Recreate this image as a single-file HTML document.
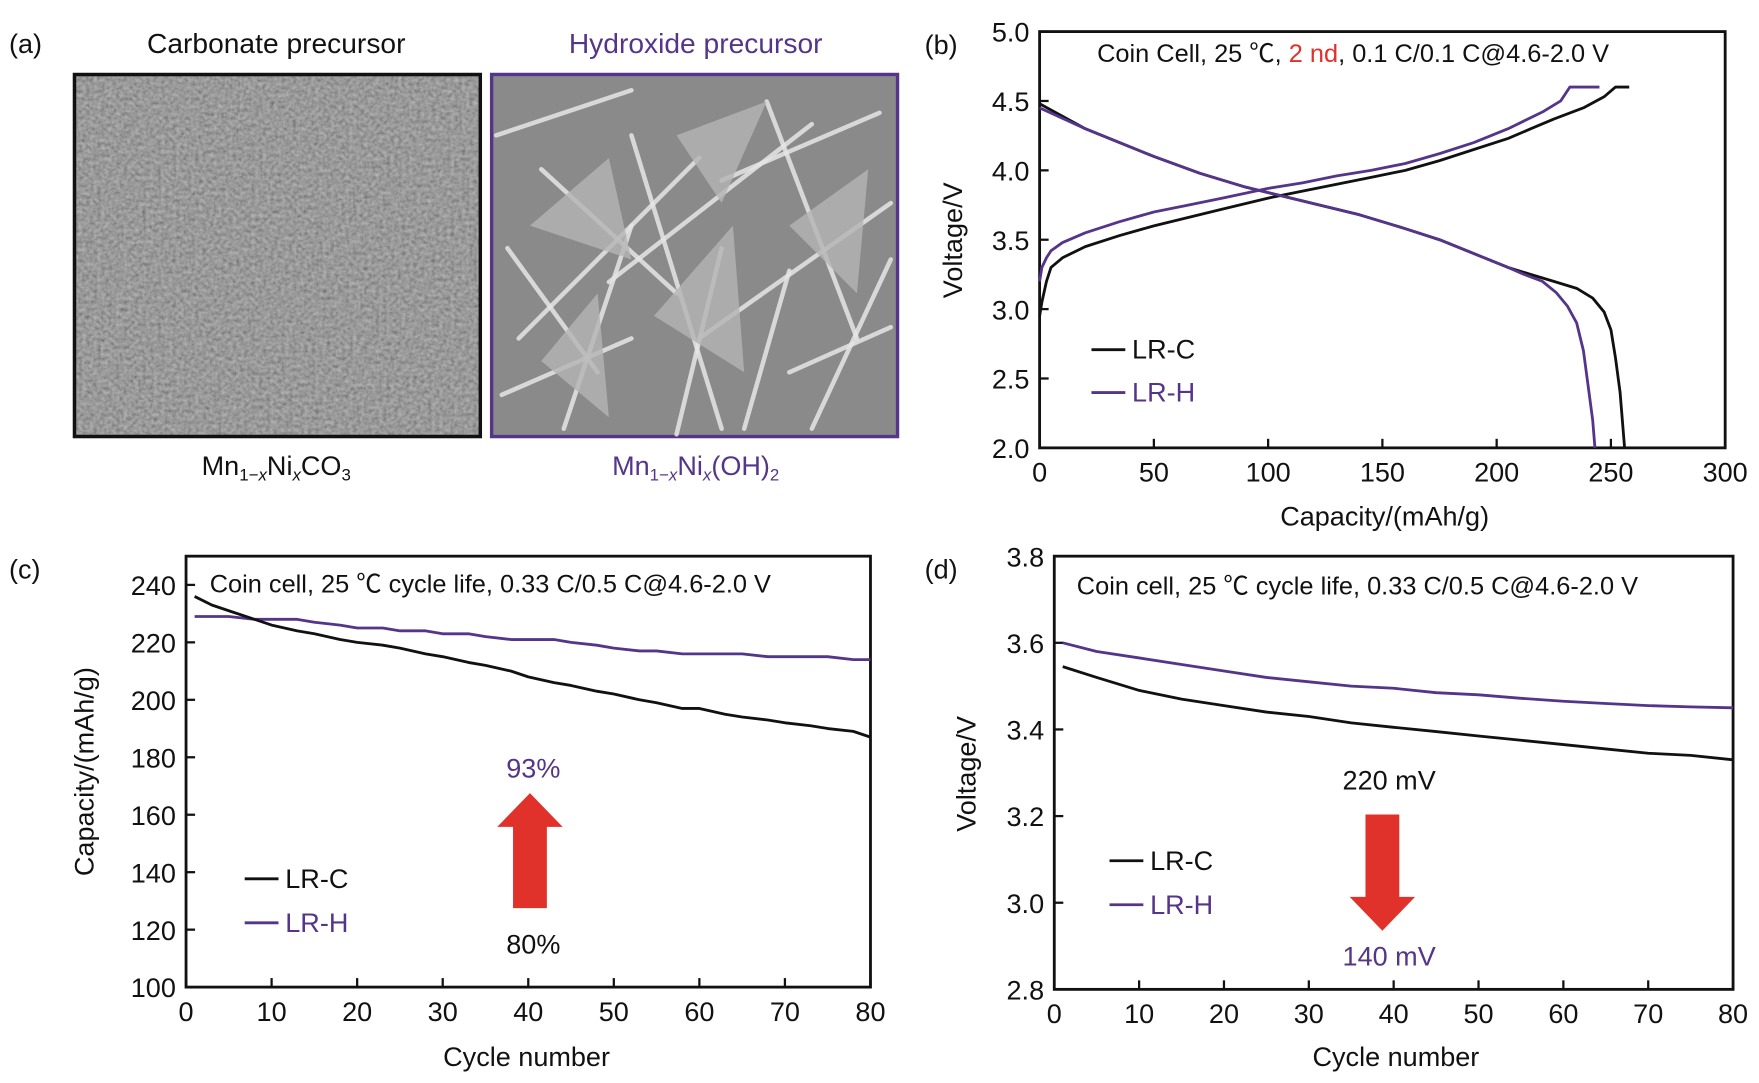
<!DOCTYPE html>
<html><head><meta charset="utf-8"><style>
html,body{margin:0;padding:0;background:#fff}
svg{display:block}
text{font-family:"Liberation Sans","Noto Sans CJK SC",sans-serif;fill:#111}
</style></head><body>
<svg id="fig" width="1759" height="1083" viewBox="0 0 1560 960" preserveAspectRatio="none">
<defs>
<filter id="noise" x="0" y="0" width="100%" height="100%"><feTurbulence type="fractalNoise" baseFrequency="0.3" numOctaves="3" seed="3"/><feColorMatrix type="saturate" values="0"/><feComponentTransfer><feFuncA type="table" tableValues="0.6 0.6"/></feComponentTransfer></filter>
</defs>
<g>
<text x="8" y="47" font-size="24">(a)</text>
<text x="245" y="47" font-size="25" text-anchor="middle">Carbonate precursor</text>
<text x="617" y="47" font-size="25" text-anchor="middle" style="fill:#55358a">Hydroxide precursor</text>
<rect x="66" y="66" width="360" height="321" fill="#666" stroke="#111" stroke-width="3"/>
<rect x="68" y="68" width="356" height="317" filter="url(#noise)"/>
<rect x="436" y="66" width="360" height="321" fill="#8a8a8a" stroke="#55358a" stroke-width="3"/>
<g id="flakes"></g>
<text x="245" y="421" font-size="24" text-anchor="middle">Mn<tspan font-size="15" dy="5">1−<tspan font-style="italic">x</tspan></tspan><tspan dy="-5">Ni</tspan><tspan font-size="15" dy="5" font-style="italic">x</tspan><tspan dy="-5">CO</tspan><tspan font-size="15" dy="5">3</tspan></text>
<text x="617" y="421" font-size="24" text-anchor="middle" style="fill:#55358a">Mn<tspan font-size="15" dy="5">1−<tspan font-style="italic">x</tspan></tspan><tspan dy="-5">Ni</tspan><tspan font-size="15" dy="5" font-style="italic">x</tspan><tspan dy="-5">(OH)</tspan><tspan font-size="15" dy="5">2</tspan></text>
</g>
<g id="pb"></g>
<g id="pc"></g>
<g id="pd"></g>
</svg>
<script>
const bChargeC_cap=[0,1,3,5,10,20,35,50,65,80,100,115,130,145,160,175,190,205,215,225,238,247,252,258];
const bChargeC_v=[2.95,3.05,3.2,3.3,3.37,3.45,3.53,3.6,3.66,3.72,3.8,3.85,3.9,3.95,4.0,4.07,4.15,4.23,4.3,4.37,4.45,4.53,4.6,4.6];
const bChargeH_cap=[0,1,3,5,10,20,35,50,65,80,100,115,130,145,160,175,190,205,220,228,232,245];
const bChargeH_v=[3.2,3.3,3.37,3.42,3.48,3.55,3.63,3.7,3.75,3.8,3.87,3.91,3.96,4.0,4.05,4.12,4.2,4.3,4.42,4.5,4.6,4.6];
const bDisC_cap=[0,20,50,70,90,110,140,160,175,190,205,215,225,235,242,247,250,252,254,255,256];
const bDisC_v=[4.48,4.3,4.1,3.98,3.88,3.8,3.68,3.58,3.5,3.4,3.3,3.25,3.2,3.15,3.08,2.98,2.85,2.65,2.4,2.2,2.0];
const bDisH_cap=[0,20,50,70,90,110,140,160,175,190,205,212,220,226,231,235,238,240,242,243];
const bDisH_v=[4.45,4.3,4.1,3.98,3.88,3.8,3.68,3.58,3.5,3.4,3.3,3.25,3.2,3.12,3.02,2.9,2.7,2.45,2.2,2.0];
const bXTicks=[0,50,100,150,200,250,300];
const bYTicks=[2.0,2.5,3.0,3.5,4.0,4.5,5.0];
const cCycles=[1,3,5,8,10,13,15,18,20,23,25,28,30,33,35,38,40,43,45,48,50,53,55,58,60,63,65,68,70,73,75,78,80];
const cCapC=[236,233,231,228,226,224,223,221,220,219,218,216,215,213,212,210,208,206,205,203,202,200,199,197,197,195,194,193,192,191,190,189,187];
const cCapH=[229,229,229,228,228,228,227,226,225,225,224,224,223,223,222,221,221,221,220,219,218,217,217,216,216,216,216,215,215,215,215,214,214];
const cXTicks=[0,10,20,30,40,50,60,70,80];
const cYTicks=[100,120,140,160,180,200,220,240];
const dCycles=[1,5,10,15,20,25,30,35,40,45,50,55,60,65,70,75,80];
const dVoltC=[3.545,3.52,3.49,3.47,3.455,3.44,3.43,3.415,3.405,3.395,3.385,3.375,3.365,3.355,3.345,3.34,3.33];
const dVoltH=[3.60,3.58,3.565,3.55,3.535,3.52,3.51,3.5,3.495,3.485,3.48,3.472,3.465,3.46,3.455,3.452,3.45];
const dXTicks=[0,10,20,30,40,50,60,70,80];
const dYTicks=[2.8,3.0,3.2,3.4,3.6,3.8];

const NS="http://www.w3.org/2000/svg";
const PURPLE="#55358a";
const FS=24;
function mk(parent,tag,attrs,txt){const e=document.createElementNS(NS,tag);for(const k in attrs)e.setAttribute(k,attrs[k]);if(txt!==undefined)e.textContent=txt;parent.appendChild(e);return e;}
function axis(g,box,xd,yd,xt,yt,yfmt,prefix){
  const sx=v=>box.x0+(v-xd[0])/(xd[1]-xd[0])*(box.x1-box.x0);
  const sy=v=>box.y1-(v-yd[0])/(yd[1]-yd[0])*(box.y1-box.y0);
  const fr=mk(g,'rect',{x:box.x0,y:box.y0,width:box.x1-box.x0,height:box.y1-box.y0,fill:'none',stroke:'#111','stroke-width':2.5});
  
  
  xt.forEach(v=>{
    const t=mk(g,'line',{x1:sx(v),x2:sx(v),y1:box.y1,y2:box.y1-8,stroke:'#111','stroke-width':2});
    
    
    const l=mk(g,'text',{x:sx(v),y:box.y1+30,'font-size':FS,'text-anchor':'middle'},String(v));
    
    
  });
  yt.forEach(v=>{
    const t=mk(g,'line',{x1:box.x0,x2:box.x0+8,y1:sy(v),y2:sy(v),stroke:'#111','stroke-width':2});
    
    
    const l=mk(g,'text',{x:box.x0-9,y:sy(v)+9,'font-size':FS,'text-anchor':'end'},yfmt(v));
    
    
  });
  return {sx,sy};
}
function line(g,xs,ys,s,color,name){
  const d=xs.map((x,i)=>(i?'L':'M')+s.sx(x).toFixed(1)+','+s.sy(ys[i]).toFixed(1)).join('');
  const p=mk(g,'path',{d:d,fill:'none',stroke:color,'stroke-width':2.5,'stroke-linejoin':'round'});
  
  
}
function txt(g,x,y,s,size,name,opts){const t=mk(g,'text',Object.assign({x:x,y:y,'font-size':size},opts||{}),s);return t;}
function legend(g,x,y,color,label,name){
  const l=mk(g,'line',{x1:x,x2:x+30,y1:y,y2:y,stroke:color,'stroke-width':2.5});
  
  
  const t=txt(g,x+36,y+8,label,FS,name+'-label');
  if(color!=='#111')t.setAttribute('style','fill:'+color);
}

(function(){
  const f=document.getElementById('flakes');
  const segs=[[440,120,560,80],[460,300,620,140],[500,380,560,200],[540,250,720,110],[600,385,640,220],[620,300,790,180],[660,380,700,240],[700,330,790,290],[450,220,530,330],[560,120,640,380],[680,90,760,300],[720,380,790,230],[480,150,600,260],[640,160,780,100],[445,350,560,300]];
  segs.forEach(s=>{const l=mk(f,'line',{x1:s[0],y1:s[1],x2:s[2],y2:s[3],stroke:'#e6e6e6','stroke-width':4,'stroke-linecap':'round',opacity:0.85});
    
    });
  const polys=[[470,200,540,140,560,230],[580,280,650,200,660,330],[700,200,770,150,760,260],[600,120,680,90,640,180],[480,320,530,260,540,370]];
  polys.forEach(p=>{const e=mk(f,'polygon',{points:p.join(','),fill:'#b4b4b4',opacity:0.8});
    
    });
})();

(function(){
  const g=document.getElementById('pb');
  const s=axis(g,{x0:922,x1:1530,y0:28,y1:397},[0,300],[2,5],bXTicks,bYTicks,v=>v.toFixed(1),'b');
  txt(g,820,48,'(b)',24,'panel-b-label');
  const t=txt(g,973,55,'Coin Cell, 25 ℃, ',22.5,'b-condition-text');
  mk(t,'tspan',{style:'fill:#e0312a'},'2 nd');
  mk(t,'tspan',{},', 0.1 C/0.1 C@4.6-2.0 V');
  txt(g,1228,466,'Capacity/(mAh/g)',FS,'b-x-axis-title',{'text-anchor':'middle'});
  txt(g,0,0,'Voltage/V',FS,'b-y-axis-title',{'text-anchor':'middle',transform:'translate(853,213) rotate(-90)'});
  line(g,bChargeC_cap,bChargeC_v,s,'#111','b-lrc-charge');
  line(g,bDisC_cap,bDisC_v,s,'#111','b-lrc-discharge');
  line(g,bChargeH_cap,bChargeH_v,s,PURPLE,'b-lrh-charge');
  line(g,bDisH_cap,bDisH_v,s,PURPLE,'b-lrh-discharge');
  legend(g,968,310,'#111','LR-C','b-legend-lrc');
  legend(g,968,348,PURPLE,'LR-H','b-legend-lrh');
})();

function arrow(g,cx,yBase,yTip,up,name){
  const hw=29,sw=15,hl=30;
  const yHead=up?yTip+hl:yTip-hl;
  const pts=[[cx-sw,yBase],[cx-sw,yHead],[cx-hw,yHead],[cx,yTip],[cx+hw,yHead],[cx+sw,yHead],[cx+sw,yBase]];
  const p=mk(g,'polygon',{points:pts.map(q=>q.join(',')).join(' '),fill:'#e0312a'});
  
  
}

(function(){
  const g=document.getElementById('pc');
  const s=axis(g,{x0:165,x1:772,y0:493,y1:875},[0,80],[100,250],cXTicks,cYTicks,v=>String(v),'c');
  txt(g,8,513,'(c)',24,'panel-c-label');
  txt(g,186,525,'Coin cell, 25 ℃ cycle life, 0.33 C/0.5 C@4.6-2.0 V',22.5,'c-condition-text');
  txt(g,467,945,'Cycle number',FS,'c-x-axis-title',{'text-anchor':'middle'});
  txt(g,0,0,'Capacity/(mAh/g)',FS,'c-y-axis-title',{'text-anchor':'middle',transform:'translate(83,684) rotate(-90)'});
  line(g,cCycles,cCapH,s,PURPLE,'c-lrh-series');
  line(g,cCycles,cCapC,s,'#111','c-lrc-series');
  legend(g,217,779,'#111','LR-C','c-legend-lrc');
  legend(g,217,818,PURPLE,'LR-H','c-legend-lrh');
  arrow(g,470,805,703,true,'c-improvement-arrow');
  txt(g,473,689,'93%',FS,'c-93-percent',{'text-anchor':'middle',style:'fill:'+PURPLE});
  txt(g,473,845,'80%',FS,'c-80-percent',{'text-anchor':'middle'});
})();

(function(){
  const g=document.getElementById('pd');
  const s=axis(g,{x0:935,x1:1537,y0:493,y1:877},[0,80],[2.8,3.8],dXTicks,dYTicks,v=>v.toFixed(1),'d');
  txt(g,820,513,'(d)',24,'panel-d-label');
  txt(g,955,527,'Coin cell, 25 ℃ cycle life, 0.33 C/0.5 C@4.6-2.0 V',22.5,'d-condition-text');
  txt(g,1238,945,'Cycle number',FS,'d-x-axis-title',{'text-anchor':'middle'});
  txt(g,0,0,'Voltage/V',FS,'d-y-axis-title',{'text-anchor':'middle',transform:'translate(865,686) rotate(-90)'});
  line(g,dCycles,dVoltH,s,PURPLE,'d-lrh-series');
  line(g,dCycles,dVoltC,s,'#111','d-lrc-series');
  legend(g,984,763,'#111','LR-C','d-legend-lrc');
  legend(g,984,802,PURPLE,'LR-H','d-legend-lrh');
  arrow(g,1226,722,825,false,'d-decay-arrow');
  txt(g,1232,700,'220 mV',FS,'d-220-mv',{'text-anchor':'middle'});
  txt(g,1232,856,'140 mV',FS,'d-140-mv',{'text-anchor':'middle',style:'fill:'+PURPLE});
})();
</script>
</body></html>
